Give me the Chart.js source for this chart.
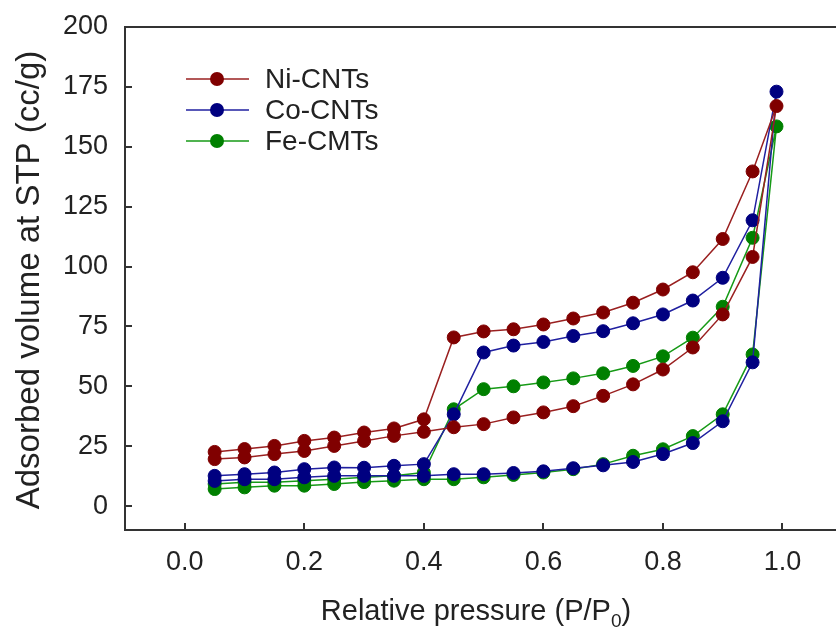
<!DOCTYPE html>
<html>
<head>
<meta charset="utf-8">
<script src="https://cdn.jsdelivr.net/npm/chart.js@4.4.0/dist/chart.umd.min.js"></script>
<style>
  html, body { margin: 0; padding: 0; background: #fff; overflow: hidden; }
  #wrap { width: 836px; height: 632px; }
</style>
</head>
<body>
<div id="wrap"><canvas id="iso" width="836" height="632"></canvas></div>
<script>
// relative pressure steps: adsorption goes up, desorption comes back down
const P_ADS = [0.05, 0.10, 0.15, 0.20, 0.25, 0.30, 0.35, 0.40, 0.45, 0.50,
               0.55, 0.60, 0.65, 0.70, 0.75, 0.80, 0.85, 0.90, 0.95, 0.99];
const P_DES = [0.95, 0.90, 0.85, 0.80, 0.75, 0.70, 0.65, 0.60, 0.55, 0.50,
               0.45, 0.40, 0.35, 0.30, 0.25, 0.20, 0.15, 0.10, 0.05];

const NI_ADS = [19.6, 20.3, 21.7, 23, 25.1, 27.2, 29.3, 31, 32.9, 34.2,
                37, 39.1, 41.7, 46, 50.8, 57, 66.2, 80, 104, 167];
const NI_DES = [139.7, 111.5, 97.6, 90.4, 84.9, 80.8, 78.3, 75.8, 73.8, 72.9,
                70.4, 36.2, 32.4, 30.7, 28.6, 27.2, 25.1, 23.8, 22.6];

const CO_ADS = [10.5, 11.2, 11.2, 12, 12.6, 12.6, 12.6, 12.6, 13.3, 13.3,
                13.8, 14.5, 15.8, 17, 18.4, 21.7, 26.3, 35.4, 60, 173];
const CO_DES = [119.3, 95.3, 85.8, 80, 76.3, 73, 71, 68.5, 67, 64.1,
                38.3, 17.5, 16.8, 16, 16.1, 15.4, 14, 13.3, 12.6];

const FE_ADS = [7.1, 7.8, 8.5, 8.5, 9.2, 10, 10.6, 11.2, 11.2, 12,
                13, 14, 15.4, 17.5, 21, 23.7, 29.2, 38.3, 63.3, 158.5];
const FE_DES = [112, 83.2, 70.3, 62.5, 58.5, 55.4, 53.3, 51.6, 50, 48.8,
                40.4, 14, 12.6, 12, 11.2, 10.6, 9.9, 9.9, 9.2];

const SERIES_NAMES = ['Ni-CNTs', 'Co-CNTs', 'Fe-CMTs'];
const X_TICKS = [0, 0.2, 0.4, 0.6, 0.8, 1.0];
const Y_TICKS = [0, 25, 50, 75, 100, 125, 150, 175, 200];

const FONT = '"Liberation Sans", Arial, sans-serif';
const INK = '#222';

function loop(ads, des) {
    const xs = P_ADS.concat(P_DES);
    const ys = ads.concat(des);
    return xs.map((x, i) => ({ x: x, y: ys[i] }));
}

function series(label, ads, des, marker, line) {
    return {
        label: label,
        data: loop(ads, des),
        showLine: true,
        tension: 0,
        borderColor: line,
        borderWidth: 1.5,
        pointStyle: 'circle',
        pointRadius: 6.5,
        pointBackgroundColor: marker,
        pointBorderColor: marker,
        pointBorderWidth: 1
    };
}

const datasets = [
    series(SERIES_NAMES[0], NI_ADS, NI_DES, '#800000', '#9a2020'),
    series(SERIES_NAMES[1], CO_ADS, CO_DES, '#000080', '#2020a0'),
    series(SERIES_NAMES[2], FE_ADS, FE_DES, '#008000', '#169a16')
];

// axis frame, inward ticks, legend and the two axis titles
const decor = {
    id: 'decor',
    beforeDatasetsDraw(chart) {
        const { ctx, chartArea: a, scales: { x, y } } = chart;
        const edge = chart.width; // frame runs off the right side like the original
        ctx.save();
        ctx.strokeStyle = '#333';
        ctx.lineWidth = 2;
        ctx.beginPath();
        ctx.moveTo(edge, a.top);
        ctx.lineTo(a.left, a.top);
        ctx.lineTo(a.left, a.bottom);
        ctx.lineTo(edge, a.bottom);
        ctx.stroke();

        ctx.beginPath();
        Y_TICKS.forEach(v => {
            const py = Math.round(y.getPixelForValue(v));
            ctx.moveTo(a.left, py);
            ctx.lineTo(a.left + 7, py);
        });
        X_TICKS.forEach(v => {
            const px = Math.round(x.getPixelForValue(v));
            ctx.moveTo(px, a.bottom);
            ctx.lineTo(px, a.bottom - 7);
        });
        ctx.stroke();
        ctx.restore();
    },
    afterDraw(chart) {
        const { ctx } = chart;
        ctx.save();

        // legend
        const rows = [79, 110, 141];
        chart.data.datasets.forEach((ds, i) => {
            const ry = rows[i];
            ctx.strokeStyle = ds.borderColor;
            ctx.lineWidth = 1.5;
            ctx.beginPath();
            ctx.moveTo(186, ry);
            ctx.lineTo(249, ry);
            ctx.stroke();
            ctx.fillStyle = ds.pointBackgroundColor;
            ctx.beginPath();
            ctx.arc(217, ry, 7, 0, Math.PI * 2);
            ctx.fill();
            ctx.fillStyle = INK;
            ctx.font = '28px ' + FONT;
            ctx.textAlign = 'left';
            ctx.textBaseline = 'middle';
            ctx.fillText(ds.label, 265, ry + 1);
        });

        // y title
        ctx.fillStyle = INK;
        ctx.font = '33px ' + FONT;
        ctx.translate(30, 280);
        ctx.rotate(-Math.PI / 2);
        ctx.textAlign = 'center';
        ctx.textBaseline = 'middle';
        ctx.fillText('Adsorbed volume at STP (cc/g)', 0, 0);
        ctx.setTransform(1, 0, 0, 1, 0, 0);

        // x title with subscript 0
        const main = 'Relative pressure (P/P';
        const sub = '0';
        const tail = ')';
        ctx.font = '29px ' + FONT;
        const wMain = ctx.measureText(main).width;
        const wTail = ctx.measureText(tail).width;
        ctx.font = '19px ' + FONT;
        const wSub = ctx.measureText(sub).width;
        let sx = 476 - (wMain + wSub + wTail) / 2;
        const base = 620;
        ctx.textAlign = 'left';
        ctx.textBaseline = 'alphabetic';
        ctx.font = '29px ' + FONT;
        ctx.fillText(main, sx, base);
        sx += wMain;
        ctx.font = '19px ' + FONT;
        ctx.fillText(sub, sx, base + 7);
        sx += wSub;
        ctx.font = '29px ' + FONT;
        ctx.fillText(tail, sx, base);
        ctx.restore();
    }
};

new Chart(document.getElementById('iso'), {
    type: 'scatter',
    data: { datasets: datasets },
    options: {
        responsive: false,
        animation: false,
        devicePixelRatio: 1,
        layout: { padding: { top: 27, right: 0, left: 0, bottom: 0 } },
        plugins: {
            legend: { display: false },
            tooltip: { enabled: false }
        },
        scales: {
            x: {
                type: 'linear',
                min: -0.1,
                max: 1.077,
                afterFit: s => { s.height = 102; s.paddingLeft = 0; s.paddingRight = 0; },
                afterBuildTicks: s => { s.ticks = X_TICKS.map(v => ({ value: v })); },
                grid: { display: false, drawTicks: false },
                border: { display: false },
                ticks: {
                    color: INK,
                    padding: 16,
                    maxRotation: 0,
                    font: { family: FONT, size: 27 },
                    callback: v => v.toFixed(1)
                }
            },
            y: {
                type: 'linear',
                min: -10,
                max: 200,
                afterFit: s => { s.width = 125; s.paddingTop = 0; s.paddingBottom = 0; },
                afterBuildTicks: s => { s.ticks = Y_TICKS.map(v => ({ value: v })); },
                grid: { display: false, drawTicks: false },
                border: { display: false },
                ticks: {
                    color: INK,
                    padding: 17,
                    font: { family: FONT, size: 27 },
                    callback: v => String(v)
                }
            }
        }
    },
    plugins: [decor]
});
</script>
</body>
</html>
